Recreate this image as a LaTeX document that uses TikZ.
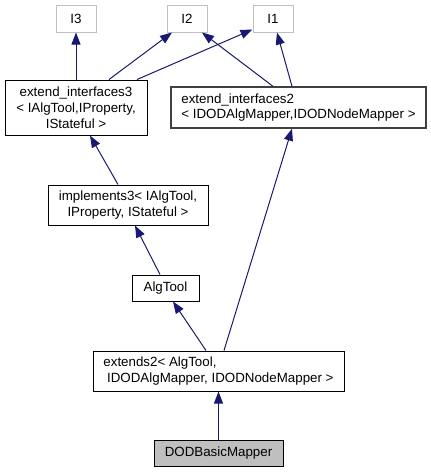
\documentclass[tikz,border=0pt]{standalone}
\usepackage{fontspec}
\setmainfont{Liberation Sans}
\usetikzlibrary{arrows.meta,calc}
\definecolor{edgeblue}{HTML}{191970}
\definecolor{boxgrey}{HTML}{BFBFBF}
\begin{document}
\begin{tikzpicture}[x=0.75pt, y=-0.75pt,
    cls/.style={draw, rectangle, inner sep=0pt, line width=0.75pt, font=\fontsize{10}{11.8}\selectfont},
    ext/.style={cls, draw=boxgrey},
    inherit/.style={draw=edgeblue, line width=0.75pt, -{Triangle[length=9pt, width=6.75pt]}, edgeblue}
]
    \useasboundingbox (0,0) rectangle (431,472);

    % interface nodes
    \node[ext, minimum width=30pt, minimum height=20.25pt] (i3) at (76,18.5) {I3};
    \node[ext, minimum width=30pt, minimum height=20.25pt] (i2) at (187,18.5) {I2};
    \node[ext, minimum width=30pt, minimum height=20.25pt] (i1) at (273,18.5) {I1};

    % extend_interfaces
    \node[cls, align=center, minimum width=106.5pt, minimum height=41.25pt] (extif3) at (76,107.5) {
        extend\_interfaces3\\
        < IAlgTool,IProperty,\\
        IStateful >
    };
    \node[cls, align=left, draw=black!75, line width=1pt, minimum width=191.25pt, minimum height=30.75pt] (extif2) at (298.5,107.5) {
        extend\_interfaces2\\
        < IDODAlgMapper,IDODNodeMapper >
    };

    % implements3 and AlgTool
    \node[cls, align=center, minimum width=120pt, minimum height=30pt] (impl3) at (128,205) {
        implements3< IAlgTool,\\
        IProperty, IStateful >
    };
    \node[cls, minimum width=50.25pt, minimum height=19.5pt] (algtool) at (165.5,288) {AlgTool};

    % extends2
    \node[cls, align=left, minimum width=188.25pt, minimum height=30pt] (ext2) at (218.5,371) {
        extends2< AlgTool,\\
        \ IDODAlgMapper, IDODNodeMapper >
    };

    % DODBasicMapper
    \node[cls, fill=boxgrey, minimum width=96.75pt, minimum height=19.5pt] (mapper) at (218.5,453) {DODBasicMapper};

    % inheritance
    \draw[inherit] (extif3.north) -- (i3.south);
    \draw[inherit] ($(extif3.north)+(33,0)$) -- ($(i2.south)+(-15,0)$);
    \draw[inherit] ($(extif3.north)+(61,0)$) -- ($(i1.south west)+(0,-3)$);
    \draw[inherit] ($(extif2.north)+(-25.5,0)$) -- ($(i2.south)+(15,0)$);
    \draw[inherit] ($(extif2.north)+(-6.5,0)$) -- ($(i1.south)+(4,0)$);
    \draw[inherit] ($(impl3.north)+(-10,0)$) -- ($(extif3.south)+(14,0)$);
    \draw[inherit] ($(algtool.north)+(-5.5,0)$) -- ($(impl3.south)+(7,0)$);
    \draw[inherit] ($(ext2.north)+(-12.5,0)$) -- ($(algtool.south)+(7.5,0)$);
    \draw[inherit] ($(ext2.north)+(5.5,0)$) -- ($(extif2.south)+(-6.5,0)$);
    \draw[inherit] (mapper.north) -- (ext2.south);

\end{tikzpicture}
\end{document}
